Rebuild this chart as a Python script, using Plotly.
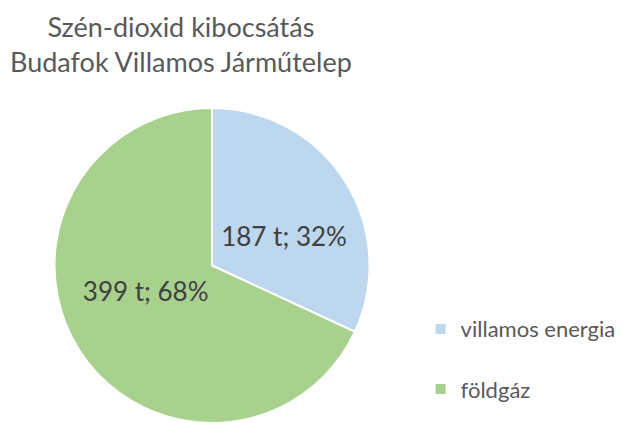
import plotly.graph_objects as go

categories = ["villamos energia", "földgáz"]
values = [187, 399]
colors = ["#BDD7EE", "#A9D18E"]
title_lines = ["Szén-dioxid kibocsátás", "Budafok Villamos Járműtelep"]

FONT = "Lato, 'Open Sans', sans-serif"

# padded legend names to give the large vertical legend spacing
legend_labels = [c + "<br> " for c in categories]

# label templates (blank lines nudge the label placement inside each slice)
label_templates = [" <br>%{value} t; %{percent:.0%}",
                   "%{value} t; %{percent:.0%}<br> "]

fig = go.Figure(go.Pie(
    labels=legend_labels,
    values=values,
    customdata=categories,
    marker=dict(colors=colors, line=dict(color="white", width=2)),
    sort=False,
    direction="clockwise",
    rotation=0,
    texttemplate=label_templates,
    textposition="inside",
    insidetextorientation="horizontal",
    textfont=dict(size=26, color="#404040", family=FONT),
    hovertemplate="%{customdata}: %{value} t<extra></extra>",
    domain=dict(x=[0.0742, 0.5839], y=[0.0, 0.759]),
))

fig.add_annotation(
    text="<br>".join(title_lines), xref="paper", yref="paper",
    x=0.279, y=1.0, xanchor="center", yanchor="top", showarrow=False,
    font=dict(size=27, color="#595959", family=FONT),
)

fig.update_layout(
    width=620, height=415,
    margin=dict(l=0, r=0, t=0, b=0, autoexpand=False),
    paper_bgcolor="white",
    legend=dict(x=0.6655, y=0.119, xanchor="left", yanchor="middle",
                font=dict(size=22, color="#595959", family=FONT),
                valign="top"),
)

fig.write_html("out.html")
